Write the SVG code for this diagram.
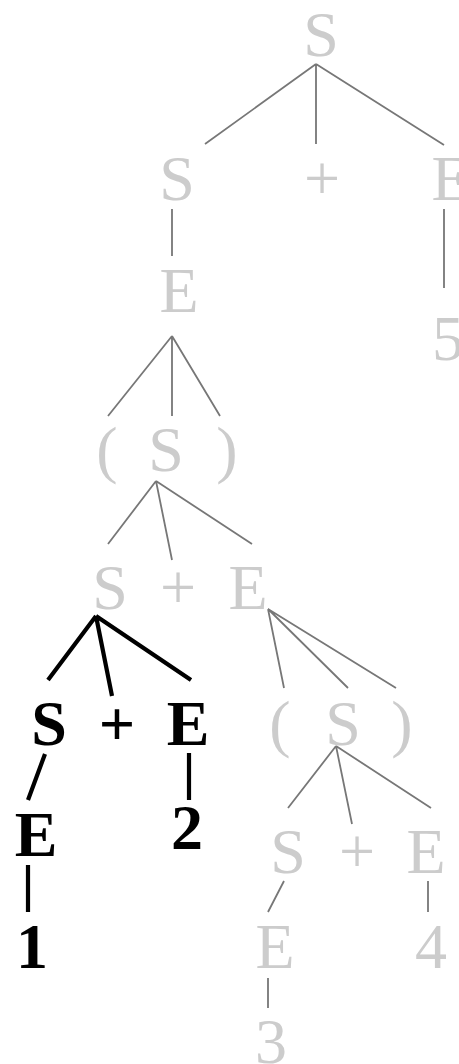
<svg xmlns="http://www.w3.org/2000/svg" width="459" height="1064" viewBox="0 0 459 1064">
<style>
text{font-family:"Liberation Serif","Times New Roman",serif;font-size:64px;text-anchor:middle}
.g{fill:#cccccc}
.b{fill:#000;font-weight:bold}
.lg{stroke:#777;stroke-width:1.8;fill:none}
.lb{stroke:#000;stroke-width:4.2;fill:none}
</style>
<rect width="459" height="1064" fill="#fff"/>
<g id="connectors">
<path class="lg" d="M316,64L205,144M316,64L316,144M316,64L444,145"/>
<path class="lg" d="M172,209L172,256M444,209L444,288"/>
<path class="lg" d="M172,336L108,416M172,336L172,416M172,336L220,416"/>
<path class="lg" d="M156,481L108,544M156,481L172,560M156,481L252,544"/>
<path class="lb" d="M96,616L48,680M96,616L112,696M96,616L191,680"/>
<path class="lg" d="M268,609L284,688M268,609L348,688M268,609L396,688"/>
<path class="lb" d="M45,754L28,800M28,865L28,912M189,753L189,800"/>
<path class="lg" d="M336,746L288,808M336,746L352,824M336,746L431,808"/>
<path class="lg" d="M284,881L268,912M428,881L428,912M268,978L268,1008"/>
</g>
<g id="n_root"><text class="g" x="321" y="56">S</text></g>
<g id="n_S1"><text class="g" x="177" y="200">S</text></g>
<g id="n_plus1"><text class="g" x="322" y="200">+</text></g>
<g id="n_E1"><text class="g" x="451" y="200">E</text></g>
<g id="n_E2"><text class="g" x="179" y="312">E</text></g>
<g id="n_5"><text class="g" x="448" y="360">5</text></g>
<g id="n_lp1"><text class="g" x="107" y="471">(</text></g>
<g id="n_S2"><text class="g" x="166" y="471">S</text></g>
<g id="n_rp1"><text class="g" x="227" y="471">)</text></g>
<g id="n_S3"><text class="g" x="110" y="609">S</text></g>
<g id="n_plus2"><text class="g" x="178" y="609">+</text></g>
<g id="n_E3"><text class="g" x="248" y="609">E</text></g>
<g id="n_S4"><text class="b" x="49" y="745">S</text></g>
<g id="n_plus3"><text class="b" x="117" y="745">+</text></g>
<g id="n_E4"><text class="b" x="188" y="745">E</text></g>
<g id="n_lp2"><text class="g" x="280" y="745">(</text></g>
<g id="n_S5"><text class="g" x="343" y="745">S</text></g>
<g id="n_rp2"><text class="g" x="402" y="745">)</text></g>
<g id="n_E5"><text class="b" x="36" y="856">E</text></g>
<g id="n_2"><text class="b" x="187" y="849">2</text></g>
<g id="n_S6"><text class="g" x="288" y="873">S</text></g>
<g id="n_plus4"><text class="g" x="357" y="873">+</text></g>
<g id="n_E6"><text class="g" x="426" y="873">E</text></g>
<g id="n_1"><text class="b" x="32" y="968">1</text></g>
<g id="n_E7"><text class="g" x="275" y="968">E</text></g>
<g id="n_4"><text class="g" x="431" y="968">4</text></g>
<g id="n_3"><text class="g" x="271" y="1063">3</text></g>
</svg>
